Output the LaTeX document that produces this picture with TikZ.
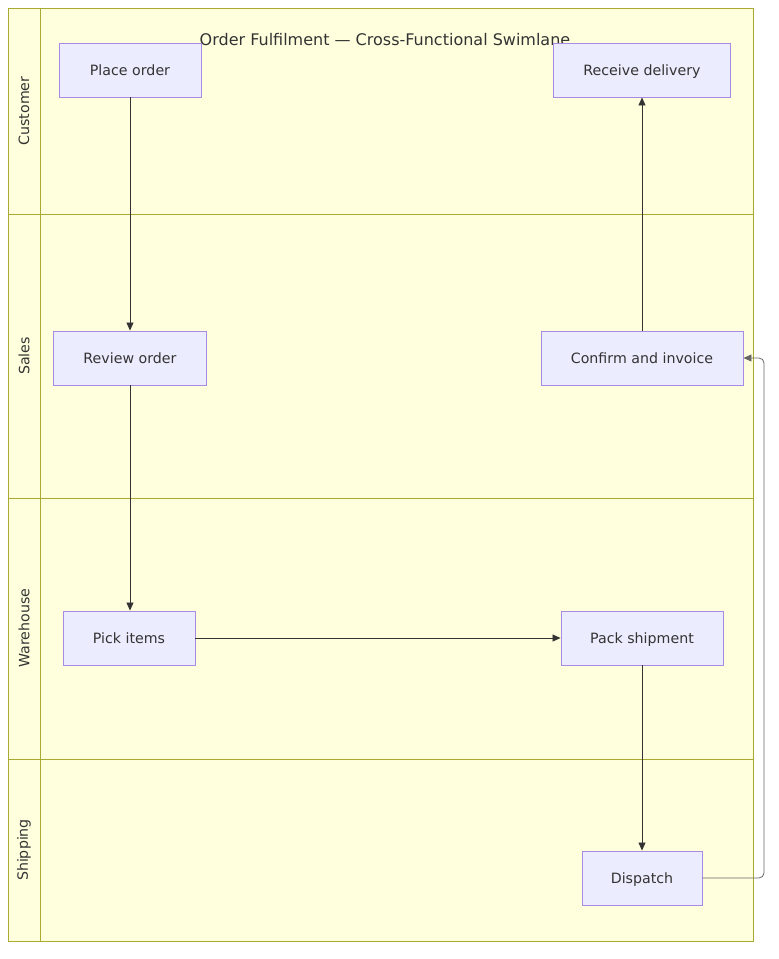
\documentclass[tikz,border=0pt]{standalone}
\usepackage{fontspec}
\setmainfont{DejaVu Sans}
\usetikzlibrary{positioning,arrows.meta}
\definecolor{lanefill}{HTML}{FFFFDE}
\definecolor{laneedge}{HTML}{AAAA33}
\definecolor{stepfill}{HTML}{ECECFF}
\definecolor{stepedge}{HTML}{A98BE3}
\definecolor{linkcol}{HTML}{333333}

\begin{document}
\begin{tikzpicture}[x=1pt, y=-1pt,
  font=\fontsize{14.2}{16}\selectfont,
  lane/.style={draw=laneedge, line width=0.8pt, fill=lanefill},
  lanelbl/.style={rotate=90, text=linkcol},
  stepbox/.style={draw=stepedge, line width=0.9pt, fill=stepfill,
                  minimum height=54pt, inner sep=0pt, text=linkcol,
                  text height=10.6pt, text depth=0pt},
  arr/.style={-{Triangle[length=8pt, width=7pt]}, line width=0.8pt, draw=linkcol},
]
\useasboundingbox (0,0) rectangle (779,959);

% ─── lanes ─────────────────────────────────────────────────────────────────
\draw[lane] (8,8) rectangle (753,941);
\draw[lane] (8,214) -- (753,214);
\draw[lane] (8,498) -- (753,498);
\draw[lane] (8,759) -- (753,759);
\draw[lane] (40,8) -- (40,941);

\node[lanelbl] (lcust) at (24,111) {Customer};
\node[lanelbl] (lsales) at (24,356) {Sales};
\node[lanelbl] (lware) at (24,628) {Warehouse};
\node[lanelbl] (lship) at (24,850) {Shipping};

\node[text=linkcol, font=\fontsize{16}{18}\selectfont] (title) at (385,40)
  {Order Fulfilment — Cross-Functional Swimlane};

% ─── steps ─────────────────────────────────────────────────────────────────
\node[stepbox, minimum width=142pt] (place) at (130,70) {Place order};
\node[stepbox, minimum width=177pt] (receive) at (642,70) {Receive delivery};
\node[stepbox, minimum width=153pt] (review) at (130,358) {Review order};
\node[stepbox, minimum width=202pt] (confirm) at (642,358) {Confirm and invoice};
\node[stepbox, minimum width=132pt] (pick) at (129,638) {Pick items};
\node[stepbox, minimum width=162pt] (pack) at (642,638) {Pack shipment};
\node[stepbox, minimum width=120pt] (dispatch) at (642,878) {Dispatch};

% ─── links ─────────────────────────────────────────────────────────────────
\draw[arr] (place) -- (review);
\draw[arr] (review.south) -- (review.south |- pick.north);
\draw[arr] (pick) -- (pack);
\draw[arr] (pack) -- (dispatch);
\draw[arr] (confirm) -- (receive);

\coordinate (rail) at (764,0);
\draw[arr, draw=linkcol!75, rounded corners=5pt] (dispatch.east)
  -- (dispatch.east -| rail) -- (confirm.east -| rail) -- (confirm.east);

\end{tikzpicture}
\end{document}
